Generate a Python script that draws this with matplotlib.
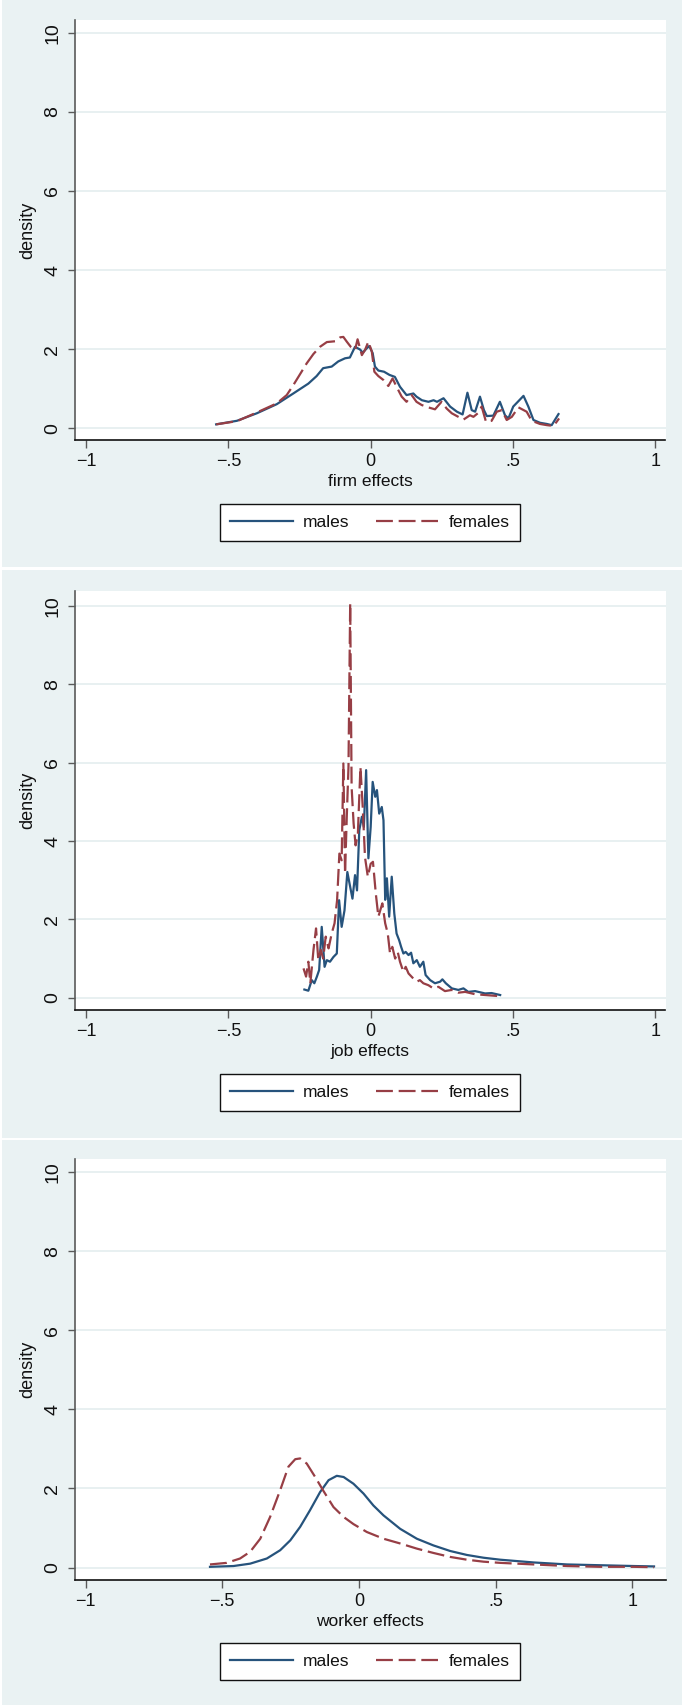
import matplotlib
matplotlib.use('Agg')
import matplotlib.pyplot as plt
from matplotlib.patches import Rectangle

# ---- data ----
# firm effects
firm_males_x = [-0.543, -0.470, -0.400, -0.330, -0.272, -0.219, -0.190, -0.167, -0.137, -0.114,
                -0.090, -0.073, -0.055, -0.037, -0.028, -0.014, -0.005, 0.007, 0.015, 0.027,
                0.047, 0.066, 0.085, 0.103, 0.126, 0.150, 0.161, 0.180, 0.203, 0.221,
                0.233, 0.256, 0.279, 0.303, 0.323, 0.340, 0.355, 0.367, 0.384, 0.398,
                0.408, 0.431, 0.454, 0.472, 0.484, 0.501, 0.537, 0.554, 0.572, 0.595,
                0.619, 0.636, 0.648, 0.660]
firm_males_y = [0.10, 0.19, 0.38, 0.61, 0.88, 1.13, 1.32, 1.52, 1.56, 1.69,
                1.77, 1.79, 2.06, 1.99, 1.91, 2.02, 2.08, 1.90, 1.56, 1.46,
                1.43, 1.35, 1.30, 1.05, 0.84, 0.88, 0.80, 0.71, 0.67, 0.71,
                0.67, 0.76, 0.55, 0.42, 0.35, 0.90, 0.46, 0.42, 0.80, 0.46,
                0.31, 0.32, 0.67, 0.33, 0.25, 0.55, 0.82, 0.55, 0.21, 0.14,
                0.11, 0.08, 0.22, 0.36]
firm_females_x = [-0.543, -0.470, -0.400, -0.330, -0.295, -0.272, -0.248, -0.225, -0.201, -0.178,
                  -0.154, -0.125, -0.107, -0.096, -0.084, -0.070, -0.055, -0.046, -0.031, -0.020,
                  -0.008, 0.004, 0.013, 0.027, 0.045, 0.062, 0.077, 0.091, 0.109, 0.126,
                  0.144, 0.161, 0.179, 0.202, 0.226, 0.249, 0.267, 0.285, 0.308, 0.326,
                  0.349, 0.361, 0.378, 0.390, 0.405, 0.425, 0.443, 0.461, 0.478, 0.496,
                  0.519, 0.548, 0.566, 0.595, 0.619, 0.642, 0.654, 0.662]
firm_females_y = [0.10, 0.18, 0.40, 0.63, 0.84, 1.09, 1.37, 1.64, 1.88, 2.06,
                  2.18, 2.20, 2.30, 2.31, 2.19, 2.06, 1.98, 2.25, 1.85, 1.98,
                  2.19, 1.94, 1.43, 1.32, 1.22, 1.07, 1.26, 1.05, 0.80, 0.67,
                  0.84, 0.67, 0.59, 0.53, 0.48, 0.67, 0.50, 0.38, 0.29, 0.22,
                  0.33, 0.29, 0.39, 0.55, 0.17, 0.19, 0.42, 0.46, 0.21, 0.29,
                  0.53, 0.42, 0.19, 0.11, 0.08, 0.06, 0.17, 0.25]

# job effects
job_males_x = [-0.233, -0.219, -0.207, -0.198, -0.189, -0.181, -0.172, -0.162, -0.154, -0.143,
               -0.131, -0.119, -0.111, -0.102, -0.092, -0.082, -0.072, -0.064, -0.055, -0.048,
               -0.040, -0.031, -0.024, -0.016, -0.008, 0.000, 0.007, 0.016, 0.022, 0.030,
               0.039, 0.045, 0.051, 0.057, 0.065, 0.074, 0.083, 0.091, 0.100, 0.107,
               0.115, 0.123, 0.133, 0.142, 0.150, 0.162, 0.173, 0.185, 0.193, 0.209,
               0.226, 0.244, 0.252, 0.264, 0.285, 0.308, 0.326, 0.343, 0.367, 0.402,
               0.425, 0.455]
job_males_y = [0.21, 0.18, 0.45, 0.37, 0.54, 0.71, 1.81, 0.79, 0.96, 0.92,
               1.04, 1.13, 2.49, 1.81, 2.23, 3.21, 2.83, 2.53, 3.13, 2.74,
               4.28, 4.62, 4.36, 5.81, 3.56, 4.36, 5.51, 5.13, 5.30, 4.70,
               4.87, 4.53, 2.50, 3.05, 2.07, 3.09, 2.15, 1.64, 1.47, 1.30,
               1.13, 1.17, 1.09, 1.15, 0.88, 0.96, 0.79, 0.92, 0.58, 0.45,
               0.37, 0.41, 0.47, 0.37, 0.24, 0.20, 0.24, 0.15, 0.17, 0.11,
               0.12, 0.07]
job_females_x = [-0.236, -0.227, -0.219, -0.212, -0.201, -0.192, -0.184, -0.175, -0.167, -0.158,
                 -0.148, -0.137, -0.127, -0.118, -0.110, -0.102, -0.096, -0.090, -0.084, -0.078,
                 -0.072, -0.067, -0.060, -0.053, -0.045, -0.036, -0.028, -0.020, -0.010, 0.000,
                 0.008, 0.018, 0.027, 0.041, 0.051, 0.060, 0.068, 0.076, 0.086, 0.095,
                 0.103, 0.115, 0.123, 0.133, 0.150, 0.162, 0.173, 0.185, 0.203, 0.220,
                 0.238, 0.261, 0.285, 0.308, 0.332, 0.367, 0.402, 0.455]
job_females_y = [0.75, 0.54, 0.92, 0.37, 1.22, 1.77, 0.96, 1.22, 1.00, 1.56,
                 1.26, 1.64, 1.90, 2.49, 3.68, 3.51, 5.98, 3.17, 4.62, 5.89,
                 10.07, 5.38, 4.45, 3.89, 4.19, 5.89, 4.87, 3.59, 3.09, 3.42,
                 3.47, 2.66, 2.07, 2.41, 1.90, 1.64, 1.13, 1.30, 1.00, 1.17,
                 0.92, 0.66, 0.79, 0.62, 0.49, 0.41, 0.45, 0.37, 0.32, 0.24,
                 0.28, 0.17, 0.20, 0.13, 0.15, 0.09, 0.07, 0.04]

# worker effects
worker_males_x = [-0.545, -0.459, -0.398, -0.337, -0.288, -0.251, -0.215, -0.179, -0.142, -0.111,
                  -0.081, -0.056, -0.020, 0.017, 0.053, 0.090, 0.151, 0.212, 0.273, 0.334,
                  0.395, 0.456, 0.517, 0.640, 0.762, 0.884, 1.006, 1.080]
worker_males_y = [0.02, 0.04, 0.10, 0.23, 0.44, 0.69, 1.03, 1.45, 1.91, 2.21,
                  2.32, 2.29, 2.12, 1.87, 1.57, 1.32, 0.98, 0.73, 0.56, 0.42,
                  0.32, 0.25, 0.20, 0.13, 0.08, 0.06, 0.04, 0.03]
worker_females_x = [-0.545, -0.484, -0.435, -0.398, -0.361, -0.325, -0.288, -0.258, -0.233, -0.215,
                    -0.191, -0.160, -0.130, -0.093, -0.056, -0.020, 0.029, 0.090, 0.151, 0.212,
                    0.273, 0.334, 0.395, 0.456, 0.517, 0.640, 0.762, 0.884, 1.006, 1.080]
worker_females_y = [0.08, 0.12, 0.23, 0.40, 0.73, 1.28, 1.96, 2.55, 2.74, 2.76,
                    2.63, 2.29, 1.94, 1.53, 1.28, 1.10, 0.90, 0.73, 0.61, 0.48,
                    0.37, 0.27, 0.20, 0.15, 0.12, 0.08, 0.04, 0.02, 0.02, 0.01]

x_ticks = [-1, -0.5, 0, 0.5, 1]
x_tick_labels = ['\u22121', '\u2212.5', '0', '.5', '1']
y_ticks = [0, 2, 4, 6, 8, 10]
y_tick_labels = ['0', '2', '4', '6', '8', '10']
x_titles = ['firm effects', 'job effects', 'worker effects']
legend_labels = ['males', 'females']

BG = '#EAF2F3'
GRID = '#E4EDEF'
MALE = '#26537C'
FEMALE = '#973E45'

plt.rcParams['font.family'] = ['Liberation Sans', 'DejaVu Sans']

W, H = 682, 1705
fig = plt.figure(figsize=(W / 100, H / 100), dpi=100, facecolor='white')


def box(x0, y0, x1, y1):
    # pixel box (top-left origin) -> figure fraction rect
    return [x0 / W, 1 - y1 / H, (x1 - x0) / W, (y1 - y0) / H]


# grey-blue graph regions, separated by thin white lines
for top, bot in [(0, 567.3), (569.5, 1137.8), (1140, 1705)]:
    fig.add_artist(Rectangle((1.5 / W, 1 - bot / H), 1, (bot - top) / H,
                             transform=fig.transFigure, facecolor=BG,
                             edgecolor='none', zorder=0))

panels = [
    (firm_males_x, firm_males_y, firm_females_x, firm_females_y,
     box(75, 20, 665.5, 440.3), (-1.039, 1.036), (-0.303, 10.32)),
    (job_males_x, job_males_y, job_females_x, job_females_y,
     box(75, 590.7, 665.5, 1010.3), (-1.039, 1.036), (-0.32, 10.39)),
    (worker_males_x, worker_males_y, worker_females_x, worker_females_y,
     box(75, 1159.3, 665.5, 1579.6), (-1.039, 1.122), (-0.303, 10.32)),
]

for i, (mx, my, fx, fy, rect, xlim, ylim) in enumerate(panels):
    ax = fig.add_axes(rect)
    ax.set_facecolor('white')
    ax.plot(mx, my, color=MALE, lw=1.6, label=legend_labels[0], zorder=3)
    ax.plot(fx, fy, color=FEMALE, lw=1.6, dashes=(7.6, 2.6), label=legend_labels[1], zorder=3)
    ax.set_xlim(*xlim)
    ax.set_ylim(*ylim)

    ax.set_xticks(x_ticks, x_tick_labels)
    ax.set_yticks(y_ticks, y_tick_labels)
    ax.yaxis.grid(True, color=GRID, lw=1.2)
    ax.set_axisbelow(True)

    for s in ['top', 'right']:
        ax.spines[s].set_visible(False)
    ax.spines['left'].set_color('#5a5a5a')
    ax.spines['left'].set_linewidth(1.2)
    ax.spines['bottom'].set_color('#111111')
    ax.spines['bottom'].set_linewidth(1.2)
    ax.tick_params(axis='y', length=5, width=1, color='#5a5a5a', pad=5, labelsize=14, labelcolor='#111111')
    ax.tick_params(axis='x', length=5.5, width=1, color='#5a5a5a', pad=4, labelsize=13, labelcolor='#111111')
    for lab in ax.get_yticklabels():
        lab.set_rotation(90)
        lab.set_va('center')

    ax.set_ylabel('density', fontsize=13, color='#111111', va='center')
    ax.yaxis.set_label_coords(-0.0796, 0.5)
    ax.set_xlabel(x_titles[i], fontsize=12.5, color='#111111', va='center')
    ax.xaxis.set_label_coords(0.5, -0.0992)

    leg = ax.legend(loc='center', bbox_to_anchor=(0.4996, -0.1956), ncol=2,
                    fontsize=12.5, frameon=True, fancybox=False, shadow=False,
                    handlelength=3.6, handletextpad=0.6, columnspacing=1.5,
                    borderpad=0.62, borderaxespad=0)
    fr = leg.get_frame()
    fr.set_edgecolor('#111111')
    fr.set_linewidth(1.0)
    fr.set_facecolor('white')
    fr.set_alpha(1)
    for t in leg.get_texts():
        t.set_color('#111111')

fig.savefig('out.png', dpi=100, facecolor=fig.get_facecolor())
